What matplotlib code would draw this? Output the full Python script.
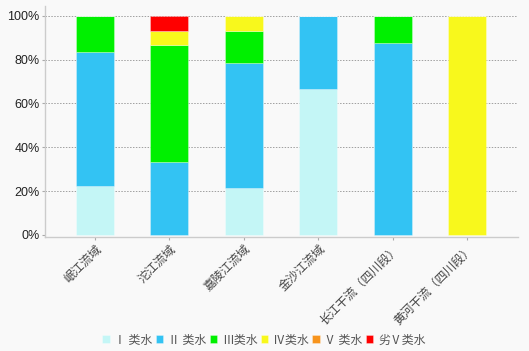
import matplotlib
matplotlib.use("Agg")
import matplotlib.pyplot as plt
import numpy as np

categories = ["岷江流域", "沱江流域", "嘉陵江流域", "金沙江流域", "长江干流（四川段）", "黄河干流（四川段）"]
series_names = ["Ⅰ 类水", "Ⅱ 类水", "Ⅲ类水", "Ⅳ类水", "Ⅴ 类水", "劣Ⅴ类水"]
class1 = [22.2, 0.0, 21.4, 66.7, 0.0, 0.0]
class2 = [61.1, 33.3, 57.2, 33.3, 87.5, 0.0]
class3 = [16.7, 53.4, 14.3, 0.0, 12.5, 0.0]
class4 = [0.0, 6.6, 7.1, 0.0, 0.0, 100.0]
class5 = [0.0, 0.0, 0.0, 0.0, 0.0, 0.0]
class6 = [0.0, 6.7, 0.0, 0.0, 0.0, 0.0]
colors = ["#c4f6f6", "#33c3f3", "#00f000", "#f8f81c", "#f7941d", "#ff0000"]
yticks = [0, 20, 40, 60, 80, 100]

plt.rcParams['font.family'] = ['Noto Sans CJK SC', 'DejaVu Sans']

bg = "#f9f9f9"
fig = plt.figure(figsize=(5.29, 3.51), dpi=100, facecolor=bg)
ax = fig.add_axes([45/529, 114/351, (518-45)/529, (237-6)/351], facecolor=bg)

x = np.arange(len(categories))
bottom = np.zeros(len(categories))
for name, vals, c in zip(series_names, [class1, class2, class3, class4, class5, class6], colors):
    vals = np.array(vals)
    ax.bar(x, vals, width=0.51, bottom=bottom, color=c, label=name,
           edgecolor=(1, 1, 1, 0.35), linewidth=0.6, zorder=3)
    bottom += vals

ax.set_xlim(-0.67, 5.68)
ax.set_ylim(-1, 104.5)
ax.set_yticks(yticks)
ax.set_yticklabels([f"{v}%" for v in yticks], family="Liberation Sans", fontsize=9, color="#222222")
for v in yticks[1:]:
    ax.axhline(v, color="#a0a0a0", linestyle=(0, (1.5, 1.5)), linewidth=0.7, zorder=1)

ax.set_xticks(x)
ax.set_xticklabels(categories, rotation=45, ha="right", va="top", rotation_mode="anchor",
                   fontsize=8.6, color="#444444")
ax.tick_params(axis="x", length=2, color="#aaaaaa", pad=2)
ax.tick_params(axis="y", length=2, color="#aaaaaa", pad=2)

for s in ["top", "right"]:
    ax.spines[s].set_visible(False)
ax.spines["left"].set_color("#cccccc")
ax.spines["bottom"].set_color("#cccccc")
ax.spines["left"].set_linewidth(1)
ax.spines["bottom"].set_linewidth(1)

leg = fig.legend(loc="center", bbox_to_anchor=(264/529, 1 - 340/351), ncol=6, frameon=False,
                 fontsize=8.6, handlelength=0.6, handleheight=0.6, handletextpad=0.4,
                 columnspacing=0.3, labelcolor="#555555")

fig.savefig("out.png", dpi=100, facecolor=bg)
